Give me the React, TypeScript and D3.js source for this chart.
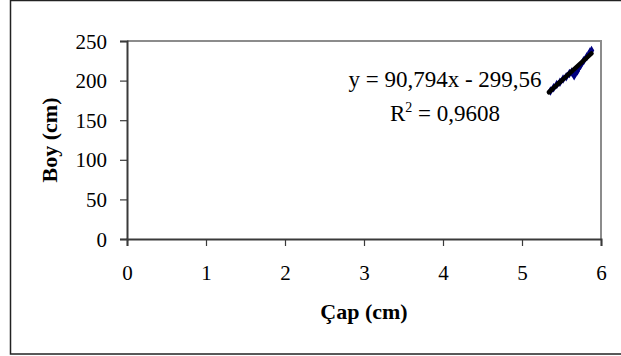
import React from 'react';
import * as d3 from 'd3';

// measured points (Çap cm, Boy cm)
const capValues = [5.36, 5.40, 5.44, 5.48, 5.52, 5.56, 5.60, 5.63, 5.66, 5.70, 5.74, 5.78, 5.82, 5.86, 5.88];
const boyValues = [187, 191, 195, 198, 202, 205, 209, 211, 206, 212, 219, 225, 230, 236, 238];
const xTicks = [0, 1, 2, 3, 4, 5, 6];
const yTicks = [0, 50, 100, 150, 200, 250];
const slope = 90.794;
const intercept = -299.56;
const eqText = 'y = 90,794x - 299,56';
const r2Text = '0,9608';

const App = () => {
  const ref = React.useRef<SVGSVGElement>(null);

  React.useEffect(() => {
    const svg = d3.select(ref.current);
    svg.selectAll('*').remove();

    const font = '"Liberation Serif", "Times New Roman", serif';
    const left = 127, right = 601, top = 41, bottom = 239;

    const x = d3.scaleLinear().domain([0, 6]).range([left, right]);
    const y = d3.scaleLinear().domain([0, 250]).range([bottom, top]);

    // outer chart frame
    svg.append('rect')
      .attr('x', 10.5).attr('y', 0.5)
      .attr('width', 630).attr('height', 353.5)
      .attr('fill', '#fff').attr('stroke', '#222').attr('stroke-width', 1.5);

    // plot area top/right border
    svg.append('path')
      .attr('d', `M${left},${top}H${right}V${bottom}`)
      .attr('fill', 'none').attr('stroke', '#8c8c8c').attr('stroke-width', 2);

    const xAxis = svg.append('g')
      .attr('transform', `translate(0,${bottom})`)
      .call(d3.axisBottom(x).tickValues(xTicks).tickSize(7).tickPadding(19).tickFormat(d3.format('d')));
    const yAxis = svg.append('g')
      .attr('transform', `translate(${left},0)`)
      .call(d3.axisLeft(y).tickValues(yTicks).tickSize(7).tickPadding(13).tickFormat(d3.format('d')));

    [xAxis, yAxis].forEach((a) => {
      a.select('.domain').attr('stroke', '#3a3a3a').attr('stroke-width', 2);
      a.selectAll('.tick line').attr('stroke', '#3a3a3a').attr('stroke-width', 1.2);
      a.selectAll('text').attr('font-family', font).attr('font-size', 21).attr('fill', '#000');
    });
    yAxis.selectAll('text').attr('dy', '0.34em');

    // data series
    const pts = capValues.map((c, i) => [c, boyValues[i]] as [number, number]);
    const line = d3.line<[number, number]>().x((d) => x(d[0])).y((d) => y(d[1]));
    svg.append('path')
      .attr('d', line(pts))
      .attr('fill', 'none').attr('stroke', '#000080').attr('stroke-width', 4)
      .attr('stroke-linejoin', 'round').attr('stroke-linecap', 'round');
    svg.append('g').selectAll('path')
      .data(pts)
      .join('path')
      .attr('transform', (d) => `translate(${x(d[0])},${y(d[1])})`)
      .attr('d', d3.symbol(d3.symbolDiamond, 26))
      .attr('fill', '#000080');

    // linear trendline
    const x0 = capValues[0] - 0.02, x1 = capValues[capValues.length - 1];
    svg.append('line')
      .attr('x1', x(x0)).attr('y1', y(slope * x0 + intercept))
      .attr('x2', x(x1)).attr('y2', y(slope * x1 + intercept))
      .attr('stroke', '#000').attr('stroke-width', 4.5).attr('stroke-linecap', 'round');

    // equation label
    svg.append('text')
      .attr('x', 445).attr('y', 87)
      .attr('text-anchor', 'middle')
      .attr('font-family', font).attr('font-size', 23)
      .text(eqText);
    const r2 = svg.append('text')
      .attr('x', 445).attr('y', 120.5)
      .attr('text-anchor', 'middle')
      .attr('font-family', font).attr('font-size', 23);
    r2.append('tspan').text('R');
    r2.append('tspan').attr('font-size', 14).attr('dy', -9).text('2');
    r2.append('tspan').attr('dy', 9).text(` = ${r2Text}`);

    // axis titles
    svg.append('text')
      .attr('x', (left + right) / 2).attr('y', 319)
      .attr('text-anchor', 'middle')
      .attr('font-family', font).attr('font-size', 22).attr('font-weight', 'bold')
      .text('Çap (cm)');
    svg.append('text')
      .attr('transform', `translate(57,${(top + bottom) / 2}) rotate(-90)`)
      .attr('text-anchor', 'middle')
      .attr('font-family', font).attr('font-size', 22).attr('font-weight', 'bold')
      .text('Boy (cm)');
  }, []);

  return (
    <svg
      ref={ref}
      width={621}
      height={356}
      style={{ position: 'absolute', left: 0, top: 0, background: '#fff' }}
    />
  );
};

export default App;
